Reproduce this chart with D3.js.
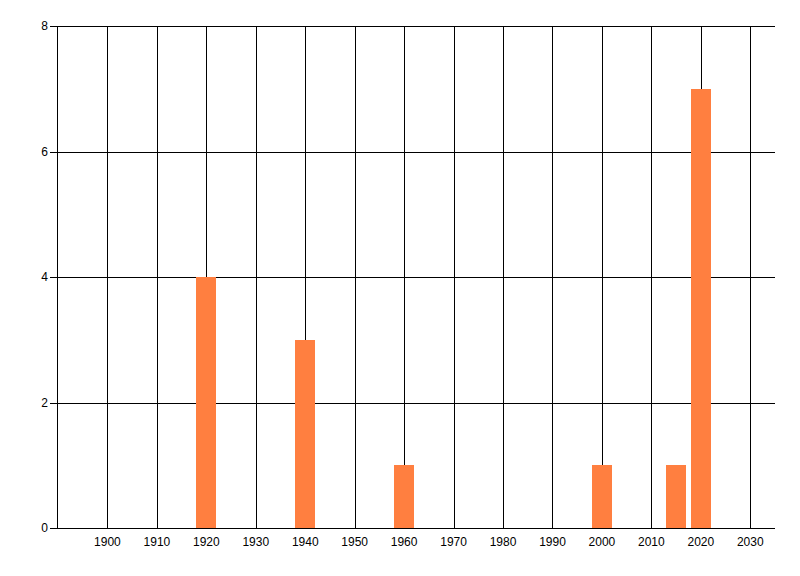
<!DOCTYPE html>
<html><head><meta charset="utf-8">
<script src="https://cdn.jsdelivr.net/npm/d3@7"></script>
<style>body{margin:0;background:#fff}svg{display:block}</style>
</head><body>
<svg id="c" width="800" height="576"></svg>
<script>
const years = [1920, 1940, 1960, 2000, 2015, 2020];
const counts = [4, 3, 1, 1, 1, 7];
const xTicks = [1900, 1910, 1920, 1930, 1940, 1950, 1960, 1970, 1980, 1990, 2000, 2010, 2020, 2030];
const yTicks = [0, 2, 4, 6, 8];

(function () {
const svg = d3.select("#c");
const pl = 57, pr = 775, pt = 26, pb = 528;
const x = d3.scaleLinear().domain([1889.8, 2035]).range([pl, pr]);
const y = d3.scaleLinear().domain([0, 8]).range([pb, pt]);
const barHalf = 2;

const g = svg.append("g").attr("shape-rendering", "crispEdges");

g.selectAll("line.vg").data(xTicks).enter().append("line")
  .attr("x1", d => Math.round(x(d)) + 0.5).attr("x2", d => Math.round(x(d)) + 0.5)
  .attr("y1", pt).attr("y2", pb).attr("stroke", "#000");
g.selectAll("line.hg").data(yTicks).enter().append("line")
  .attr("x1", pl - 7).attr("x2", pr)
  .attr("y1", d => Math.round(y(d)) + 0.5).attr("y2", d => Math.round(y(d)) + 0.5)
  .attr("stroke", "#000");
g.append("line").attr("x1", pl + 0.5).attr("x2", pl + 0.5).attr("y1", pt).attr("y2", pb + 1).attr("stroke", "#000");

g.selectAll("rect.bar").data(years).enter().append("rect")
  .attr("x", d => x(d - barHalf)).attr("width", d => x(d + barHalf) - x(d - barHalf))
  .attr("y", (d, i) => y(counts[i])).attr("height", (d, i) => y(0) - y(counts[i]))
  .attr("fill", "#ff7f40");

svg.selectAll("text.yl").data(yTicks).enter().append("text")
  .attr("x", pl - 9).attr("y", d => y(d) + 4)
  .attr("text-anchor", "end").attr("font-family", "Liberation Sans, Arial, sans-serif")
  .attr("font-size", 12).attr("fill", "#000").text(d => d);
svg.selectAll("text.xl").data(xTicks).enter().append("text")
  .attr("x", d => x(d)).attr("y", pb + 18)
  .attr("text-anchor", "middle").attr("font-family", "Liberation Sans, Arial, sans-serif")
  .attr("font-size", 12).attr("fill", "#000").text(d => d);
})();
</script>
</body></html>
